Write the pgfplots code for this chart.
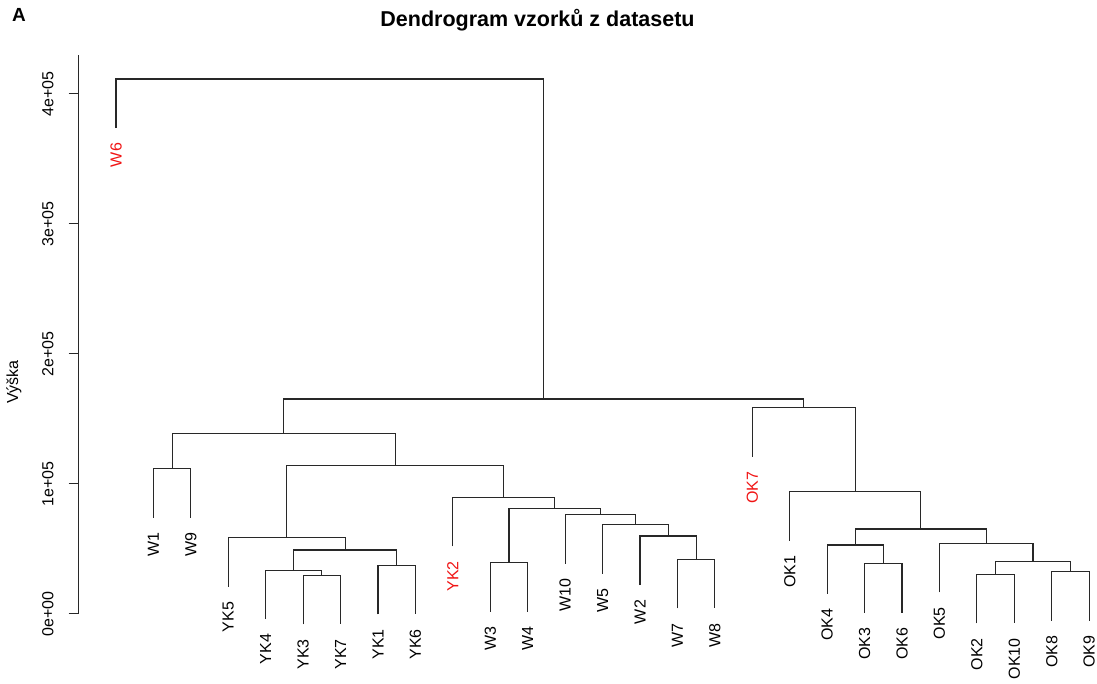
\documentclass[border=0pt]{standalone}
\usepackage{fontspec}
\setmainfont{Liberation Sans}
\usepackage{pgfplots}
\pgfplotsset{compat=1.18}

\definecolor{branch}{RGB}{40,40,40}
\definecolor{outlier}{RGB}{240,20,20}

\begin{document}
\begin{tikzpicture}[x=1pt,y=1pt]
\path[use as bounding box] (0,0) rectangle (1097,684);

\node[anchor=base west, font=\fontsize{19}{19}\selectfont\bfseries, inner sep=0pt] at (12,662) {A};
\node[anchor=base, font=\fontsize{21.5}{21.5}\selectfont\bfseries, inner sep=0pt] at (537.5,657.5) {Dendrogram vzorků z datasetu};
\node[rotate=90, font=\fontsize{16}{16}\selectfont, inner sep=0pt] at (14,302) {Výška};

\begin{axis}[
  at={(78.57pt,70pt)}, anchor=south west,
  scale only axis, width=1014.35pt, height=559pt,
  xmin=0, xmax=27.1, ymin=0, ymax=430000,
  axis x line=none, axis y line*=left,
  clip=false,
  scaled y ticks=false,
  ytick={0,100000,200000,300000,400000},
  yticklabels={0e+00,1e+05,2e+05,3e+05,4e+05},
  tick align=outside, major tick length=10pt,
  y axis line style={line width=1pt, color=branch},
  ytick style={line width=1pt, color=branch},
  yticklabel style={rotate=90, anchor=south, inner sep=0pt, outer ysep=15pt,
                    font=\fontsize{16}{16}\selectfont},
  seg/.style={draw=branch, line width=1.1pt, mark=none, solid},
  leaflabels/.style={draw=none, mark=none, nodes near coords,
    point meta=explicit symbolic,
    nodes near coords style={rotate=90, anchor=east, inner sep=0pt, outer xsep=15pt,
      font=\fontsize{16}{16}\selectfont, text=#1}},
]
% W1 / W9
\addplot[seg] coordinates {(2,74100) (2,111800) (3,111800) (3,74100)};
% YK cluster
\addplot[seg] coordinates {(6,-8000) (6,29700) (7,29700) (7,-8000)};
\addplot[seg] coordinates {(5,-3900) (5,33800) (6.5,33800) (6.5,29700)};
\addplot[seg] coordinates {(8,-300) (8,37400) (9,37400) (9,-300)};
\addplot[seg] coordinates {(5.75,33800) (5.75,49200) (8.5,49200) (8.5,37400)};
\addplot[seg] coordinates {(4,20800) (4,58500) (7.125,58500) (7.125,49200)};
% W cluster
\addplot[seg] coordinates {(11,1800) (11,39500) (12,39500) (12,1800)};
\addplot[seg] coordinates {(16,4300) (16,42000) (17,42000) (17,4300)};
\addplot[seg] coordinates {(15,22300) (15,60000) (16.5,60000) (16.5,42000)};
\addplot[seg] coordinates {(14,31000) (14,68700) (15.75,68700) (15.75,60000)};
\addplot[seg] coordinates {(13,38700) (13,76400) (14.875,76400) (14.875,68700)};
\addplot[seg] coordinates {(11.5,39500) (11.5,81000) (13.9375,81000) (13.9375,76400)};
\addplot[seg] coordinates {(10,52000) (10,89700) (12.71875,89700) (12.71875,81000)};
\addplot[seg] coordinates {(5.5625,58500) (5.5625,114400) (11.359375,114400) (11.359375,89700)};
\addplot[seg] coordinates {(2.5,111800) (2.5,138500) (8.4609375,138500) (8.4609375,114400)};
% OK cluster
\addplot[seg] coordinates {(21,800) (21,38500) (22,38500) (22,800)};
\addplot[seg] coordinates {(20,15400) (20,53100) (21.5,53100) (21.5,38500)};
\addplot[seg] coordinates {(24,-7200) (24,30500) (25,30500) (25,-7200)};
\addplot[seg] coordinates {(26,-5200) (26,32500) (27,32500) (27,-5200)};
\addplot[seg] coordinates {(24.5,30500) (24.5,40200) (26.5,40200) (26.5,32500)};
\addplot[seg] coordinates {(23,16700) (23,54400) (25.5,54400) (25.5,40200)};
\addplot[seg] coordinates {(20.75,53100) (20.75,65400) (24.25,65400) (24.25,54400)};
\addplot[seg] coordinates {(19,56400) (19,94100) (22.5,94100) (22.5,65400)};
\addplot[seg] coordinates {(18,121000) (18,158700) (20.75,158700) (20.75,94100)};
% top merges
\addplot[seg] coordinates {(5.48046875,138500) (5.48046875,165400) (19.375,165400) (19.375,158700)};
\addplot[seg] coordinates {(1,373800) (1,411500) (12.427734375,411500) (12.427734375,165400)};

% leaf labels, hung below each leaf line
\addplot[leaflabels=black] table[meta=label] {
x y label
2 74100 W1
3 74100 W9
4 20800 YK5
5 -3900 YK4
6 -8000 YK3
7 -8000 YK7
8 -300 YK1
9 -300 YK6
11 1800 W3
12 1800 W4
13 38700 W10
14 31000 W5
15 22300 W2
16 4300 W7
17 4300 W8
19 56400 OK1
20 15400 OK4
21 800 OK3
22 800 OK6
23 16700 OK5
24 -7200 OK2
25 -7200 OK10
26 -5200 OK8
27 -5200 OK9
};
\addplot[leaflabels=outlier] table[meta=label] {
x y label
1 373800 W6
10 52000 YK2
18 121000 OK7
};
\end{axis}
\end{tikzpicture}
\end{document}
